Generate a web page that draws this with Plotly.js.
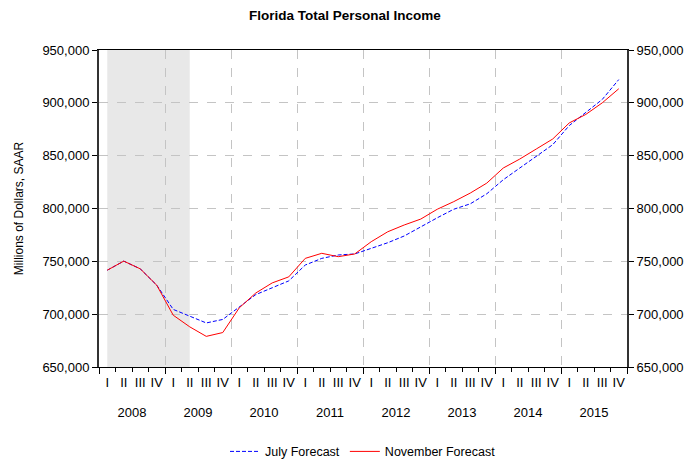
<!DOCTYPE html>
<html>
<head>
<meta charset="utf-8">
<script src="https://cdn.plot.ly/plotly-3.0.1.min.js"></script>
<style>html,body{margin:0;padding:0;background:#fff;}</style>
</head>
<body>
<div id="chart" style="width:690px;height:461px;"></div>
<script>
const years = ['2008','2009','2010','2011','2012','2013','2014','2015'];
const quarterLabels = ['I','II','III','IV'];
const julyForecast = [
  741.6, 750.2, 742.9, 727.4, 704.5, 698.0, 691.7, 695.0,
  707.0, 718.5, 725.0, 731.5, 746.5, 752.8, 756.0, 757.0,
  762.3, 767.6, 774.0, 782.8, 791.2, 799.3, 804.4, 813.9,
  827.2, 838.3, 849.4, 860.4, 878.5, 891.1, 903.2, 922.0
].map(v => v * 1000);
const novemberForecast = [
  741.6, 750.2, 742.9, 727.4, 699.0, 688.0, 679.0, 682.6,
  706.0, 720.0, 729.6, 735.3, 752.8, 757.6, 754.4, 757.0,
  768.6, 778.0, 784.4, 790.0, 799.3, 806.5, 814.6, 824.0,
  838.3, 846.8, 856.3, 865.8, 881.0, 889.0, 900.0, 913.3
].map(v => v * 1000);
const recessionQuarters = ['2008 I', '2009 II'];

const n = julyForecast.length;
const idx = julyForecast.map((_, i) => i);
const qText = idx.map(i => quarterLabels[i % 4]);
const yearBounds = years.map((_, k) => 4 * k - 0.5).concat([4 * years.length - 0.5]);
const yearCenters = years.map((_, k) => 4 * k + 1.5);
const labelOf = i => years[Math.floor(i / 4)] + ' ' + quarterLabels[i % 4];
const recStart = idx.find(i => labelOf(i) === recessionQuarters[0]);
const recEnd = idx.find(i => labelOf(i) === recessionQuarters[1]);

const FONT = '"Liberation Sans", Arial, sans-serif';
const xr = [-0.5, n - 0.5];
const yr = [650000, 950000];

const traces = [
  {x: idx, y: julyForecast, type: 'scatter', mode: 'lines', name: 'July Forecast',
   line: {color: '#0000ff', width: 1, dash: '4px,2px'}, xaxis: 'x', yaxis: 'y'},
  {x: idx, y: novemberForecast, type: 'scatter', mode: 'lines', name: 'November Forecast',
   line: {color: '#ff0000', width: 1}, xaxis: 'x', yaxis: 'y'}
];

const layout = {
  width: 690, height: 461,
  margin: {l: 99, r: 63, t: 50, b: 94},
  paper_bgcolor: '#fff', plot_bgcolor: '#fff',
  font: {family: FONT, size: 13, color: '#000'},
  title: {text: 'Florida Total Personal Income', font: {family: FONT, size: 13.5, color: '#000', weight: 'bold'},
          x: 0.5, xanchor: 'center', y: 0.967, yanchor: 'middle'},
  showlegend: true,
  legend: {orientation: 'h', x: 0.5, xanchor: 'center', yref: 'container', y: 0.02, yanchor: 'middle',
           font: {family: FONT, size: 12.5}},
  xaxis: {range: xr, tickmode: 'array', tickvals: yearBounds, showticklabels: false,
          ticks: 'outside', ticklen: 6, tickcolor: '#000',
          showgrid: true, gridcolor: '#c4c4c4', griddash: 'dash', gridwidth: 1,
          minor: {tick0: -0.5, dtick: 1, ticks: 'outside', ticklen: 4, tickcolor: '#000', showgrid: false},
          showline: true, linecolor: '#000', linewidth: 1, mirror: true, zeroline: false, fixedrange: true},
  xaxis2: {range: xr, overlaying: 'x', anchor: 'y', side: 'bottom', tickmode: 'array',
           tickvals: idx, ticktext: qText, ticks: '', showgrid: false, showline: false, zeroline: false,
           ticklabelstandoff: 6, tickfont: {family: FONT, size: 13}},
  xaxis3: {range: xr, overlaying: 'x', anchor: 'y', side: 'bottom', tickmode: 'array',
           tickvals: yearCenters, ticktext: years, ticks: '', showgrid: false, showline: false, zeroline: false,
           ticklabelstandoff: 36, tickfont: {family: FONT, size: 13}},
  yaxis: {range: yr, tickmode: 'linear', tick0: 650000, dtick: 50000, tickformat: ',d',
          ticks: 'outside', ticklen: 5, tickcolor: '#000',
          showgrid: true, gridcolor: '#c4c4c4', griddash: 'dash', gridwidth: 1,
          showline: true, linecolor: '#333', linewidth: 2, zeroline: false,
          title: {text: 'Millions of Dollars, SAAR', font: {family: FONT, size: 12}, standoff: 16}},
  yaxis2: {range: yr, overlaying: 'y', side: 'right', anchor: 'x', tickmode: 'linear', tick0: 650000, dtick: 50000,
           tickformat: ',d', ticks: 'outside', ticklen: 5, tickcolor: '#000', showgrid: false,
           showline: true, linecolor: '#333', linewidth: 2, zeroline: false},
  shapes: [{type: 'rect', xref: 'x', yref: 'paper', x0: recStart, x1: recEnd, y0: 0, y1: 1,
            fillcolor: '#e8e8e8', line: {width: 0}, layer: 'below'}]
};

// invisible helper traces so that the secondary axes are drawn
traces.push({x: [0], y: [700000], xaxis: 'x2', yaxis: 'y2', type: 'scatter', mode: 'markers',
             marker: {opacity: 0}, showlegend: false, hoverinfo: 'skip'});
traces.push({x: [0], y: [700000], xaxis: 'x3', yaxis: 'y', type: 'scatter', mode: 'markers',
             marker: {opacity: 0}, showlegend: false, hoverinfo: 'skip'});

Plotly.newPlot('chart', traces, layout, {displayModeBar: false, staticPlot: true});
</script>
</body>
</html>
